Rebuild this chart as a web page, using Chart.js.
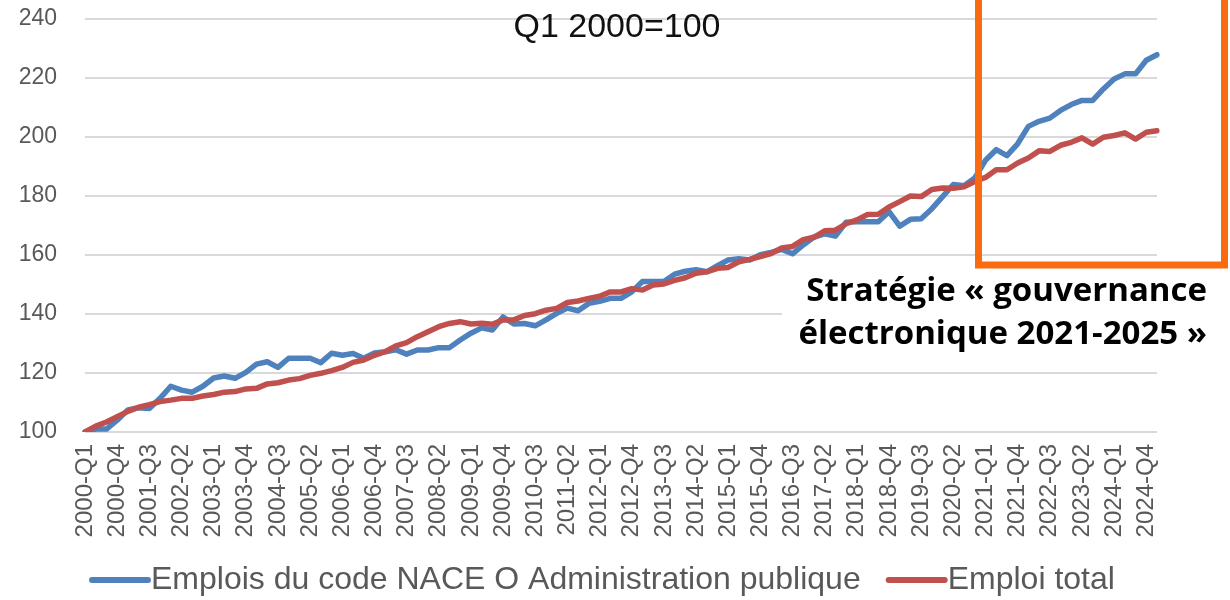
<!DOCTYPE html>
<html>
<head>
<meta charset="utf-8">
<script src="https://cdn.jsdelivr.net/npm/chart.js@4.4.1/dist/chart.umd.min.js"></script>
<style>
html, body { margin: 0; padding: 0; background: #fff; }
</style>
</head>
<body>
<canvas id="lineChart" width="1230" height="600"></canvas>
<script>
// quarters 2000-Q1 .. 2025-Q1, a label shown every 3rd quarter
var years = [2000, 2001, 2002, 2003, 2004, 2005, 2006, 2007, 2008, 2009, 2010, 2011, 2012,
             2013, 2014, 2015, 2016, 2017, 2018, 2019, 2020, 2021, 2022, 2023, 2024, 2025];
var quarterNames = ['Q1', 'Q2', 'Q3', 'Q4'];
var labelEvery = 3;

var publicAdmin = [
    100, 101, 101, 104, 107.5, 108.2, 108, 111.4, 115.5, 114.2,
    113.5, 115.5, 118.3, 119, 118.2, 120.2, 123, 123.8, 121.9, 125,
    125, 125, 123.5, 126.7, 126, 126.6, 125, 126.8, 127.2, 127.9,
    126.4, 127.8, 127.8, 128.6, 128.6, 131.2, 133.5, 135.3, 134.6, 139,
    136.6, 136.8, 136, 138, 140.2, 142, 141.1, 143.6, 144.3, 145.3,
    145.3, 147.5, 151, 151, 151, 153.5, 154.5, 155, 154.3, 156.4,
    158.3, 158.7, 158.3, 160.1, 160.9, 161.9, 160.4, 163.4, 166.1, 167.2,
    166.4, 171.1, 171.3, 171.3, 171.3, 174.7, 169.8, 172.1, 172.3, 175.7,
    179.8, 183.9, 183.5, 186.1, 192.1, 195.7, 193.7, 197.7, 203.6, 205.3,
    206.4, 209, 211, 212.4, 212.4, 216.3, 219.7, 221.4, 221.4, 226,
    227.9
];

var totalEmployment = [
    100, 102, 103.4, 105.2, 107, 108.4, 109.3, 110.3, 110.8, 111.4,
    111.4, 112.2, 112.7, 113.5, 113.7, 114.6, 114.8, 116.3, 116.7, 117.6,
    118.1, 119.2, 119.9, 120.8, 121.9, 123.6, 124.4, 126, 127.2, 129.2,
    130.3, 132.3, 134, 135.7, 136.8, 137.4, 136.6, 136.9, 136.5, 138,
    138, 139.5, 140.1, 141.3, 141.9, 143.9, 144.4, 145.3, 146, 147.5,
    147.5, 148.6, 148.1, 149.8, 150.2, 151.4, 152.3, 153.8, 154.3, 155.5,
    155.8, 157.7, 158.5, 159.5, 160.5, 162.4, 162.9, 165.2, 166, 168.2,
    168.4, 170.6, 171.9, 173.7, 173.8, 176.3, 178.1, 180, 179.8, 182.2,
    182.7, 182.6, 183.1, 184.9, 186.3, 188.9, 188.9, 191.2, 192.9, 195.3,
    195.1, 197.2, 198.2, 199.7, 197.6, 199.9, 200.5, 201.4, 199.3, 201.6,
    202.1
];

var yMin = 100, yMax = 240, yStep = 20;
var titleText = 'Q1 2000=100';
var noteLines = ['Stratégie « gouvernance', 'électronique 2021-2025 »'];

var quarterLabels = [];
years.forEach(function (y) {
    quarterNames.forEach(function (q) {
        if (quarterLabels.length < publicAdmin.length) quarterLabels.push(y + '-' + q);
    });
});

var fontFamily = "'Liberation Sans', Arial, sans-serif";
var textGrey = '#595959';

var annotationPlugin = {
    id: 'annotations',
    afterDatasetsDraw: function (chart) {
        var c = chart.ctx;
        c.save();

        // title
        c.fillStyle = '#111';
        c.font = '34px ' + fontFamily;
        c.textAlign = 'center';
        c.textBaseline = 'middle';
        c.fillText(titleText, 617, 28);

        // note box with white background
        c.fillStyle = '#fff';
        c.fillRect(782, 270, 445, 86);
        c.fillStyle = '#000';
        c.font = "bold 33px 'Open Sans', sans-serif";
        c.textAlign = 'right';
        c.fillText(noteLines[0], 1207, 292);
        c.fillText(noteLines[1], 1207, 335);

        // orange frame
        c.strokeStyle = '#FA6A0E';
        c.lineWidth = 7;
        c.strokeRect(978.5, -10, 246, 275);

        // legend
        var x = 92, y = 580;
        c.font = '32px ' + fontFamily;
        c.textAlign = 'left';
        c.textBaseline = 'middle';
        c.lineCap = 'round';
        chart.data.datasets.forEach(function (ds) {
            c.strokeStyle = ds.borderColor;
            c.lineWidth = 6;
            c.beginPath();
            c.moveTo(x, y);
            c.lineTo(x + 56, y);
            c.stroke();
            x += 59;
            c.fillStyle = textGrey;
            c.fillText(ds.label, x, y);
            x += c.measureText(ds.label).width + 28;
        });
        c.restore();
    }
};

var ctx = document.getElementById('lineChart');
new Chart(ctx, {
    type: 'line',
    data: {
        labels: quarterLabels,
        datasets: [
            {
                label: 'Emplois du code NACE O Administration publique',
                data: publicAdmin,
                borderColor: '#4F81BD',
                backgroundColor: '#4F81BD',
                borderWidth: 5.5,
                pointRadius: 0,
                tension: 0,
                borderCapStyle: 'round',
                borderJoinStyle: 'round',
                order: 1
            }, {
                label: 'Emploi total',
                data: totalEmployment,
                borderColor: '#C0504D',
                backgroundColor: '#C0504D',
                borderWidth: 5.5,
                pointRadius: 0,
                tension: 0,
                borderCapStyle: 'round',
                borderJoinStyle: 'round',
                order: 0
            }
        ]
    },
    options: {
        responsive: false,
        animation: false,
        layout: { padding: { top: 19, right: 73, left: 0, bottom: 0 } },
        plugins: {
            legend: { display: false },
            tooltip: { enabled: false }
        },
        scales: {
            x: {
                grid: { display: false, drawTicks: false },
                border: { display: false },
                ticks: {
                    autoSkip: false,
                    minRotation: 90,
                    maxRotation: 90,
                    padding: 12,
                    color: textGrey,
                    font: { family: fontFamily, size: 24 },
                    callback: function (value, index) {
                        return index % labelEvery === 0 ? this.getLabelForValue(value) : '';
                    }
                },
                afterFit: function (scale) { scale.height = 168; }
            },
            y: {
                min: yMin,
                max: yMax,
                ticks: {
                    stepSize: yStep,
                    padding: 28,
                    color: textGrey,
                    font: { family: fontFamily, size: 23 }
                },
                grid: { color: '#D9D9D9', lineWidth: 2, drawTicks: false },
                border: { display: false },
                afterFit: function (scale) {
                    scale.width = 85;
                    // tick padding would otherwise push the plot top down
                    scale.paddingTop = 0;
                    scale.paddingBottom = 0;
                }
            }
        }
    },
    plugins: [annotationPlugin]
});
</script>
</body>
</html>
